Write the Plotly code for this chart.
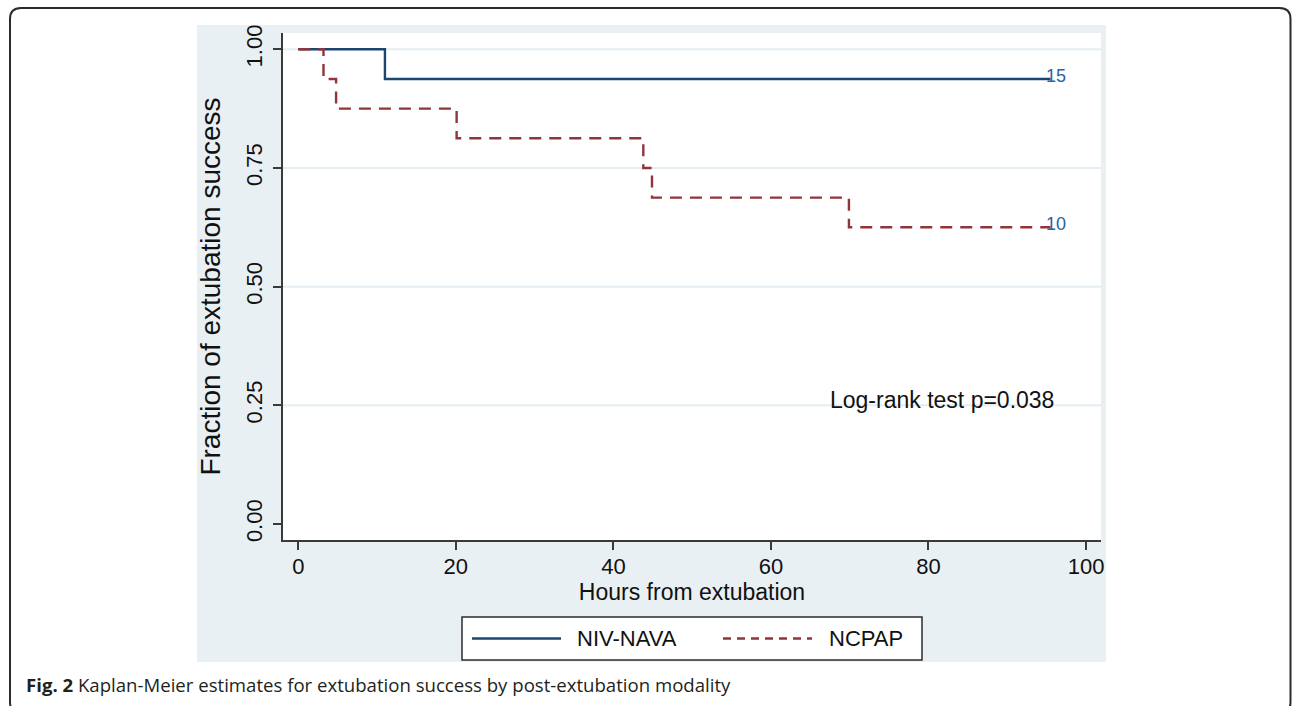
import plotly.graph_objects as go

# ---------------- data ----------------
series_names = ["NIV-NAVA", "NCPAP"]
nava_hours = [0, 11.0, 95.5]
nava_surv = [1.0, 0.9375, 0.9375]
ncpap_hours = [0, 3.2, 4.8, 20.1, 43.8, 44.9, 69.9, 95.5]
ncpap_surv = [1.0, 0.9375, 0.875, 0.8125, 0.75, 0.6875, 0.625, 0.625]
at_risk_labels = ["15", "10"]
x_ticks = [0, 20, 40, 60, 80, 100]
y_ticks = [0.0, 0.25, 0.5, 0.75, 1.0]
y_grid = [0.25, 0.5, 0.75, 1.0]
annot_text = "Log-rank test p=0.038"
annot_pos = (81.7, 0.262)
caption_bold = "Fig. 2"
caption_rest = "Kaplan-Meier estimates for extubation success by post-extubation modality"

# ---------------- style ----------------
W, H = 1292, 706
PL, PR, PT, PB = 283, 1101, 33, 540  # plot area in px
PW, PH = PR - PL, PB - PT
BLUE = "#1a476f"
MAROON = "#90353b"
LABEL_BLUE = "#2b62a5"
REGION = "#e9f0f3"
GRID = "#e4edf1"
AXIS = "#3a3a3a"
FONT = "Liberation Sans, Arial, sans-serif"
DASH = "12px,8px"


def px(x):
    return (x - PL) / PW


def py(y):
    return (PB - y) / PH


fig = go.Figure()
colors = [BLUE, MAROON]
dashes = ["solid", DASH]
xs = [nava_hours, ncpap_hours]
ys = [nava_surv, ncpap_surv]
for name, x, y, c, d in zip(series_names, xs, ys, colors, dashes):
    fig.add_trace(go.Scatter(
        x=x, y=y, mode="lines", name=name, line_shape="hv",
        line=dict(color=c, width=2.4, dash=d), showlegend=False,
        hoverinfo="x+y+name"))

shapes = []
# outer rounded frame
fl, ft, fr, fb, r = 10, 8, 1290.5, 713, 11
path = (f"M{px(fl + r)},{py(ft)} L{px(fr - r)},{py(ft)} Q{px(fr)},{py(ft)} {px(fr)},{py(ft + r)} "
        f"L{px(fr)},{py(fb - r)} Q{px(fr)},{py(fb)} {px(fr - r)},{py(fb)} "
        f"L{px(fl + r)},{py(fb)} Q{px(fl)},{py(fb)} {px(fl)},{py(fb - r)} "
        f"L{px(fl)},{py(ft + r)} Q{px(fl)},{py(ft)} {px(fl + r)},{py(ft)} Z")
shapes.append(dict(type="path", xref="paper", yref="paper", path=path,
                   line=dict(color="#2b2b2b", width=2), fillcolor="rgba(0,0,0,0)", layer="below"))
# graph region
shapes.append(dict(type="rect", xref="paper", yref="paper",
                   x0=px(197), x1=px(1106), y0=py(662), y1=py(25),
                   fillcolor=REGION, line=dict(width=0), layer="below"))
# plot region
shapes.append(dict(type="rect", xref="paper", yref="paper", x0=0, x1=1, y0=0, y1=1,
                   fillcolor="white", line=dict(width=0), layer="below"))
# grid lines
for g in y_grid:
    shapes.append(dict(type="line", xref="paper", yref="y", x0=0, x1=1, y0=g, y1=g,
                       line=dict(color=GRID, width=2), layer="below"))
# legend box
shapes.append(dict(type="rect", xref="paper", yref="paper",
                   x0=px(462), x1=px(922), y0=py(660), y1=py(617),
                   fillcolor="white", line=dict(color="#2b2b2b", width=1.5)))
leg_x = [(472, 561, 575), (723, 812, 827)]
annotations = []
for (lx0, lx1, tx), name, c, d in zip(leg_x, series_names, colors, dashes):
    shapes.append(dict(type="line", xref="paper", yref="paper",
                       x0=px(lx0), x1=px(lx1), y0=py(638.5), y1=py(638.5),
                       line=dict(color=c, width=2.4, dash="8px,6px" if d != "solid" else "solid")))
    annotations.append(dict(xref="paper", yref="paper", x=px(tx), y=py(639),
                            text=name, showarrow=False, xanchor="left", yanchor="middle",
                            font=dict(family=FONT, size=22, color="#111111")))

# at-risk labels at the end of each curve
for x, y, lab in zip(xs, ys, at_risk_labels):
    annotations.append(dict(x=x[-1], y=y[-1], text=lab, showarrow=False,
                            xanchor="left", yanchor="middle", xshift=-7, yshift=3,
                            font=dict(family=FONT, size=18, color=LABEL_BLUE)))

annotations.append(dict(x=annot_pos[0], y=annot_pos[1], text=annot_text, showarrow=False,
                        xanchor="center", yanchor="middle",
                        font=dict(family=FONT, size=23, color="#111111")))

annotations.append(dict(xref="paper", yref="paper", x=px(24), y=py(684),
                        text=f"<b>{caption_bold}</b> {caption_rest}", showarrow=False,
                        xanchor="left", yanchor="middle",
                        font=dict(family="Open Sans, sans-serif", size=18.6, color="#231f20")))

fig.update_layout(
    width=W, height=H,
    margin=dict(l=PL, r=W - PR, t=PT, b=H - PB, pad=0),
    paper_bgcolor="white", plot_bgcolor="white",
    shapes=shapes, annotations=annotations, showlegend=False,
    font=dict(family=FONT, color="#111111"),
)
fig.update_xaxes(
    range=[-1.94, 101.9], tickvals=x_ticks, ticktext=[str(t) for t in x_ticks],
    showgrid=False, zeroline=False, showline=True, linecolor=AXIS, linewidth=1.6,
    ticks="outside", ticklen=8, tickwidth=1.6, tickcolor=AXIS,
    tickfont=dict(family=FONT, size=22, color="#111111"), ticklabelstandoff=-2,
    title=dict(text="Hours from extubation", font=dict(family=FONT, size=23, color="#111111"),
               standoff=6),
)
fig.update_yaxes(
    range=[-0.0337, 1.0343], tickvals=y_ticks, ticktext=[f"{t:.2f}" for t in y_ticks],
    showgrid=False, zeroline=False, showline=True, linecolor=AXIS, linewidth=1.6,
    ticks="outside", ticklen=8, tickwidth=1.6, tickcolor=AXIS, tickangle=-90,
    tickfont=dict(family=FONT, size=22, color="#111111"), ticklabelstandoff=2,
    title=dict(text="Fraction of extubation success", font=dict(family=FONT, size=28, color="#111111"),
               standoff=14),
)

fig.write_html(
    "out.html",
    config={"displayModeBar": False},
    post_script="document.body.style.margin='0';document.body.style.overflow='hidden';",
)
